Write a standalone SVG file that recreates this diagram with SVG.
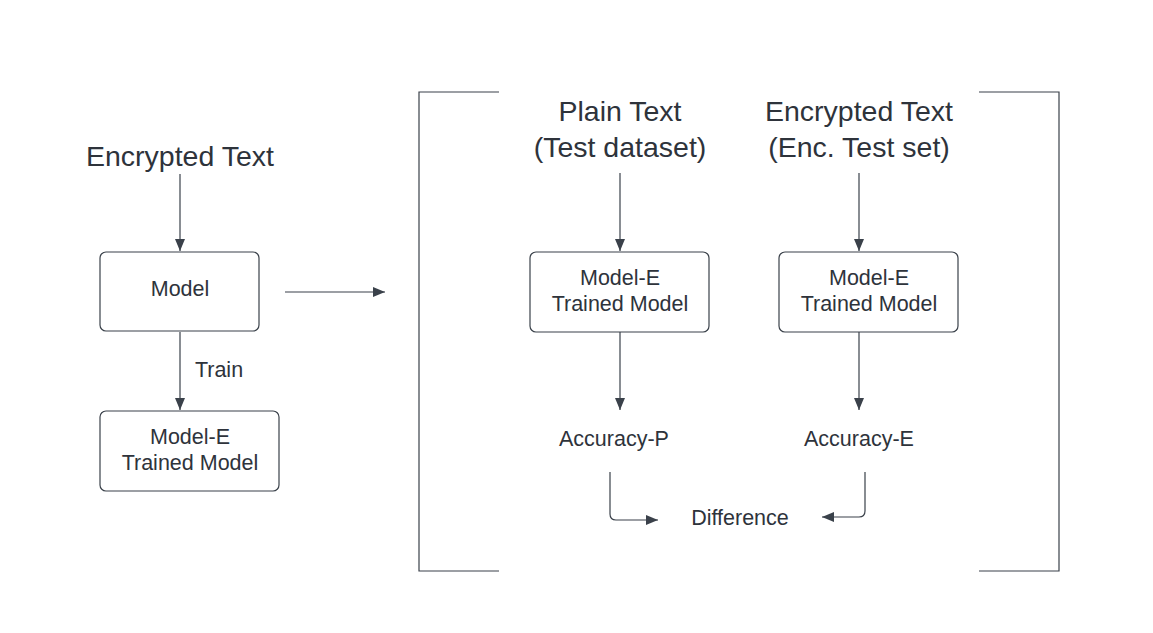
<svg xmlns="http://www.w3.org/2000/svg" width="1153" height="633" viewBox="0 0 1153 633">
<style>
.t{font-family:"Liberation Sans",Arial,sans-serif;fill:#2e333b;text-anchor:middle}
.big{font-size:28.5px}
.sm{font-size:21.5px}
.box{fill:#fff;stroke:#3a414a;stroke-width:1.2}
.ln{fill:none;stroke:#3a414a;stroke-width:1.2}
</style>
<defs>
<marker id="ah" markerWidth="12" markerHeight="10" refX="12" refY="5" orient="auto" markerUnits="userSpaceOnUse">
<path d="M0,0 L12,5 L0,10 z" fill="#3a414a"/>
</marker>
</defs>
<rect width="1153" height="633" fill="#fff"/>
<g id="connectors">
<line class="ln" x1="180" y1="174" x2="180" y2="251" marker-end="url(#ah)"/>
<line class="ln" x1="180" y1="332" x2="180" y2="410" marker-end="url(#ah)"/>
<line class="ln" x1="285" y1="292" x2="385" y2="292" marker-end="url(#ah)"/>
<line class="ln" x1="620" y1="173" x2="620" y2="251" marker-end="url(#ah)"/>
<line class="ln" x1="859" y1="173" x2="859" y2="251" marker-end="url(#ah)"/>
<line class="ln" x1="620" y1="332" x2="620" y2="410" marker-end="url(#ah)"/>
<line class="ln" x1="859" y1="332" x2="859" y2="410" marker-end="url(#ah)"/>
<path class="ln" d="M610,472 V514 Q610,520 616,520 H658" marker-end="url(#ah)"/>
<path class="ln" d="M865,472 V511 Q865,517 859,517 H822" marker-end="url(#ah)"/>
</g>
<g id="bracket-left"><path class="ln" d="M499,92 H419 V571 H499"/></g>
<g id="bracket-right"><path class="ln" d="M979,92 H1059 V571 H979"/></g>
<g id="enc-text"><text class="t big" x="180" y="166">Encrypted Text</text></g>
<g id="model"><rect class="box" x="100" y="252" width="159" height="79" rx="6"/><text class="t sm" x="180" y="296">Model</text></g>
<g id="train-label"><text class="t sm" x="219" y="377">Train</text></g>
<g id="model-e"><rect class="box" x="100" y="411" width="179" height="80" rx="6"/><text class="t sm" x="190" y="444">Model-E</text><text class="t sm" x="190" y="470">Trained Model</text></g>
<g id="plain-text"><text class="t big" x="620" y="121">Plain Text</text><text class="t big" x="620" y="157">(Test dataset)</text></g>
<g id="enc-test"><text class="t big" x="859" y="121">Encrypted Text</text><text class="t big" x="859" y="157">(Enc. Test set)</text></g>
<g id="model-e-p"><rect class="box" x="530" y="252" width="179" height="80" rx="6"/><text class="t sm" x="620" y="285">Model-E</text><text class="t sm" x="620" y="311">Trained Model</text></g>
<g id="model-e-e"><rect class="box" x="779" y="252" width="179" height="80" rx="6"/><text class="t sm" x="869" y="285">Model-E</text><text class="t sm" x="869" y="311">Trained Model</text></g>
<g id="acc-p"><text class="t sm" x="614" y="446">Accuracy-P</text></g>
<g id="acc-e"><text class="t sm" x="859" y="446">Accuracy-E</text></g>
<g id="difference"><text class="t sm" x="740" y="525">Difference</text></g>
</svg>
